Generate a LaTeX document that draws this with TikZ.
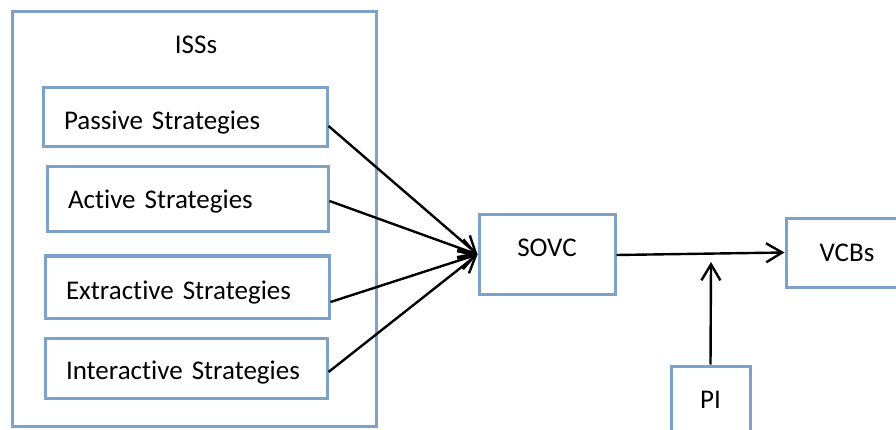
\documentclass[tikz,border=0pt]{standalone}
\usepackage{fontspec}
\setmainfont{Carlito}[Ligatures={NoCommon}]
\usetikzlibrary{arrows.meta}
\definecolor{boxblue}{HTML}{7DA1C9}
\begin{document}
\begin{tikzpicture}[x=1pt,y=-1pt,
  txt/.style={font=\fontsize{27}{31}\selectfont},
  box/.style={draw=boxblue,line width=3pt,rectangle,txt,inner sep=0pt},
  lbox/.style={box,align=left,inner xsep=21pt,text width=#1},
  off/.style={text height=#1,text depth=0pt},
  conn/.style={line width=2.4pt,-{Straight Barb[length=16pt,width=19pt,line width=2.4pt]}}]
\useasboundingbox (0,0) rectangle (896,430);
\clip (0,0) rectangle (896,430);
\node[box,minimum width=364pt,minimum height=414pt] (outer) at (194,219) {};
\node[txt,anchor=base] (isss) at (196,53.3) {ISSs};
\node[lbox=242pt,minimum height=59pt,off=25pt] (pa) at (185,117.5) {Passive Strategies};
\node[lbox=239pt,minimum height=65pt,off=18pt] (ac) at (187.5,199.5) {Active Strategies};
\node[lbox=242pt,minimum height=62pt,off=24.6pt] (ex) at (187,287) {Extractive Strategies};
\node[lbox=240pt,minimum height=60pt,off=22.6pt] (in) at (186,368) {Interactive Strategies};
\node[box,minimum width=136pt,minimum height=79pt,off=4pt] (s) at (547,254.5) {SOVC};
\node[box,minimum width=122pt,minimum height=68pt,off=17.4pt] (v) at (847,253) {VCBs};
\node[box,minimum width=79pt,minimum height=80pt,off=4.6pt] (pi) at (710.5,406) {PI};
\coordinate (j) at (711,262);
\draw[conn] ([yshift=-8.5pt]pa.east) -- (s.west);
\draw[conn] ([yshift=-1.5pt]ac.east) -- (s.west);
\draw[conn] ([yshift=-15pt]ex.east) -- (s.west);
\draw[conn] ([yshift=-4pt]in.east) -- (s.west);
\draw[conn] ([yshift=-0.5pt]s.east) -- ([yshift=0.5pt]v.west);
\draw[conn] (pi.north) -- (j);
\end{tikzpicture}
\end{document}
